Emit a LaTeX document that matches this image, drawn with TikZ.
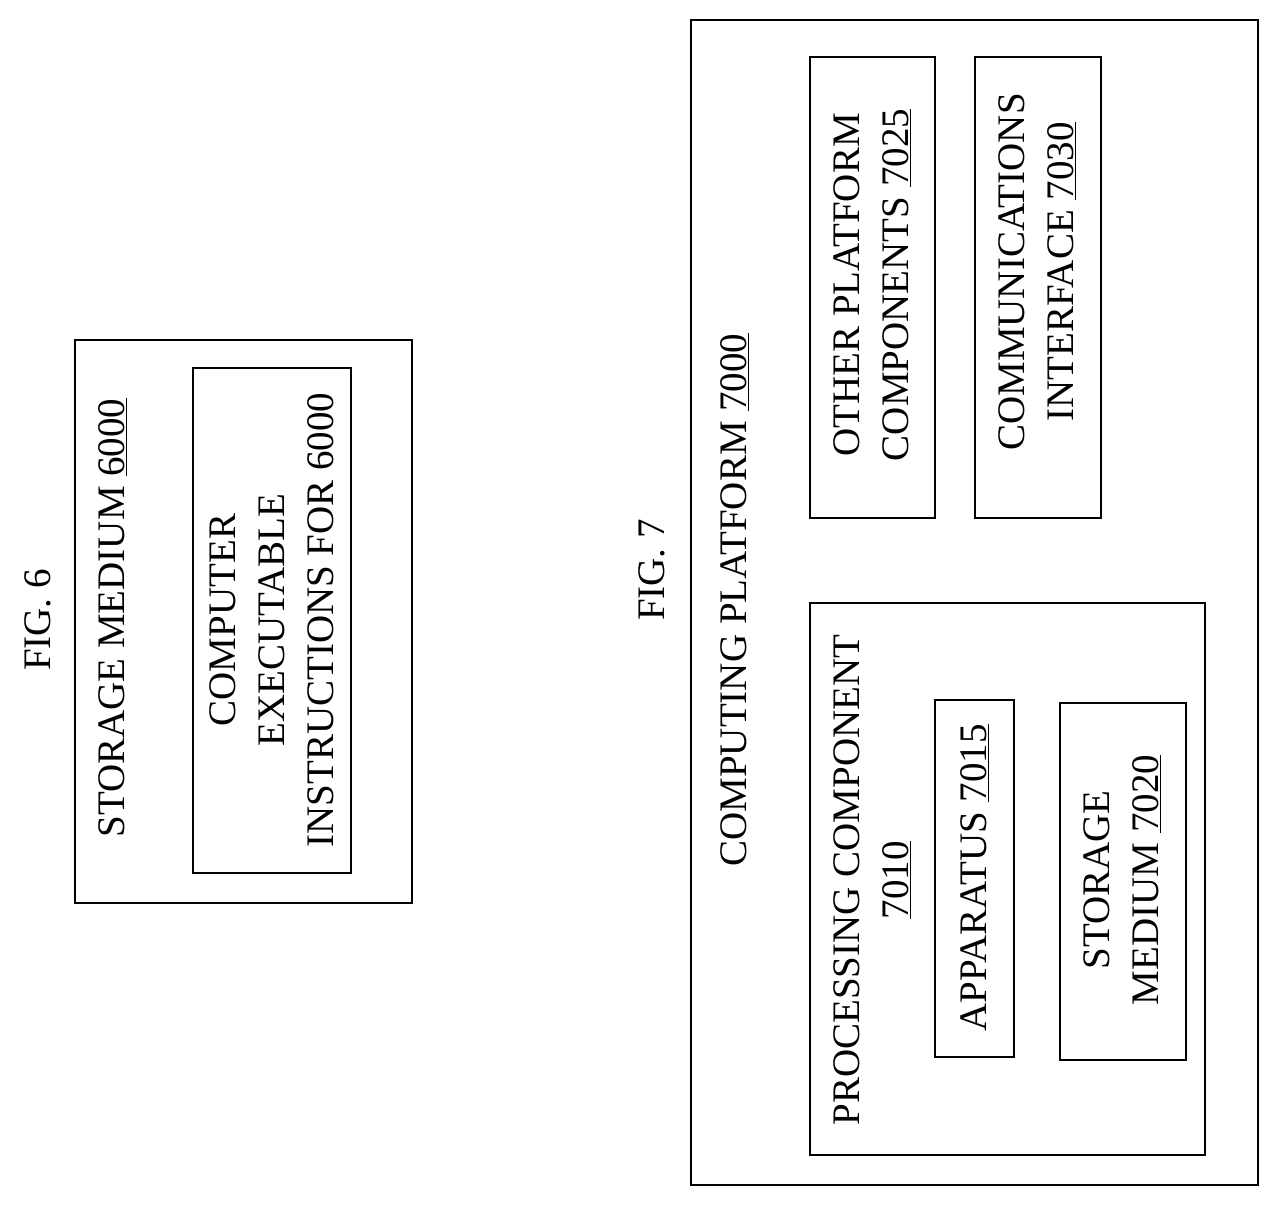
\documentclass[tikz,border=0pt]{standalone}
\usepackage{fontspec}
\setmainfont{Liberation Serif}
\begin{document}
\begin{tikzpicture}[x=1pt,y=-1pt,
 box/.style={draw,line width=2pt},
 t/.style={rotate=90,align=center,font=\fontsize{39}{49}\selectfont,inner sep=0pt}]
\useasboundingbox (0,0) rectangle (1281,1207);
\draw[box] (75,340) rectangle (412,903);
\draw[box] (193,368) rectangle (351,873);
\node[t] (f6) at (38,620) {FIG. 6};
\node[t] (sm) at (113,618) {STORAGE MEDIUM \underline{6000}};
\node[t] (ce) at (272,620) {COMPUTER\\EXECUTABLE\\INSTRUCTIONS FOR 6000};
\draw[box] (691,20) rectangle (1258,1185);
\node[t] (f7) at (652,570) {FIG. 7};
\node[t] (cp) at (735,600) {COMPUTING PLATFORM \underline{7000}};
\draw[box] (810,57) rectangle (935,518);
\node[t] (op) at (872,285) {OTHER PLATFORM\\COMPONENTS \underline{7025}};
\draw[box] (975,57) rectangle (1101,518);
\node[t] (ci) at (1037,272) {COMMUNICATIONS\\INTERFACE \underline{7030}};
\draw[box] (810,603) rectangle (1205,1155);
\node[t] (pc) at (872,880) {PROCESSING COMPONENT\\\underline{7010}};
\draw[box] (935,700) rectangle (1014,1057);
\node[t] (ap) at (975,878) {APPARATUS \underline{7015}};
\draw[box] (1060,703) rectangle (1186,1060);
\node[t] (s2) at (1122,880) {STORAGE\\MEDIUM \underline{7020}};
\end{tikzpicture}
\end{document}
